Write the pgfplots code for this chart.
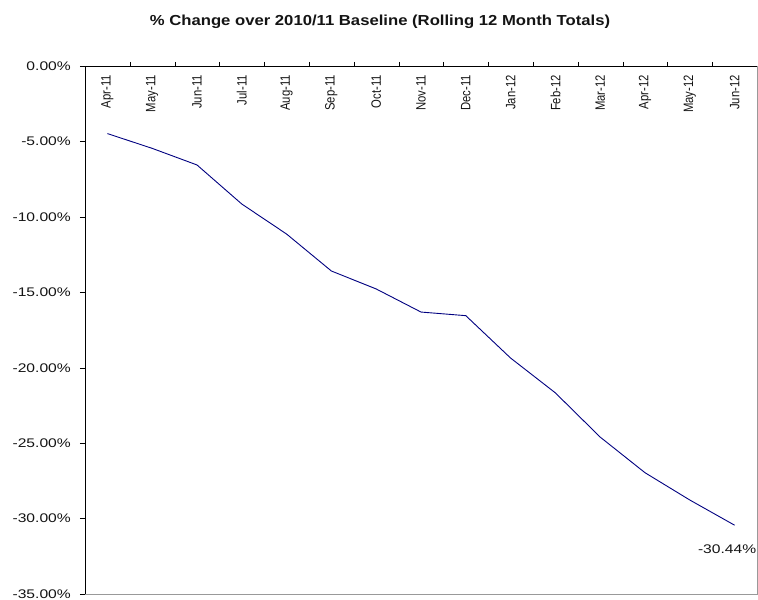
\documentclass[border=0pt]{standalone}
\usepackage{pgfplots}
\pgfplotsset{compat=1.18}
\usepackage{fontspec}
\setmainfont{Liberation Sans}
\newfontfamily\ylabfont[FakeStretch=1.25]{Liberation Sans}
\newfontfamily\titlefont[FakeStretch=1.15]{Liberation Sans}
\definecolor{navyline}{RGB}{0,0,128}
\definecolor{txt}{RGB}{20,20,20}
\newcommand\tl[1]{\scalebox{1}[1.2]{#1}}
\begin{document}
\begin{tikzpicture}
\begin{axis}[
  name=ax,
  scale only axis,
  width=672bp, height=528bp,
  xmin=-0.5, xmax=14.5,
  ymin=-35, ymax=0,
  clip=false,
  axis line style={draw=none},
  xtick={0,...,14},
  xticklabels={\tl{Apr-11},\tl{May-11},\tl{Jun-11},\tl{Jul-11},\tl{Aug-11},\tl{Sep-11},\tl{Oct-11},\tl{Nov-11},\tl{Dec-11},\tl{Jan-12},\tl{Feb-12},\tl{Mar-12},\tl{Apr-12},\tl{May-12},\tl{Jun-12}},
  minor xtick={0.5,1.5,...,13.5},
  xtick pos=upper, xticklabel pos=upper,
  major x tick style={draw=none},
  minor x tick style={black},
  minor tick length=4bp,
  tick align=outside,
  xticklabel style={rotate=90, anchor=east, font=\fontsize{11.3bp}{13bp}\selectfont, text=txt, inner sep=0pt},
  xticklabel shift=-14bp,
  ytick={-35,-30,...,0},
  yticklabels={-35.00\%,-30.00\%,-25.00\%,-20.00\%,-15.00\%,-10.00\%,-5.00\%,0.00\%},
  ytick pos=left,
  major tick length=5bp,
  ytick style={black},
  yticklabel style={font=\ylabfont\fontsize{12.5bp}{14bp}\selectfont, text=txt, inner sep=0pt},
  yticklabel shift=9bp,
]
\addplot[navyline, line width=0.9bp, mark=none] coordinates {
(0,-4.48) (1,-5.46) (2,-6.56) (3,-9.15) (4,-11.14) (5,-13.59) (6,-14.78) (7,-16.31) (8,-16.55) (9,-19.36) (10,-21.67) (11,-24.60) (12,-26.96) (13,-28.77) (14,-30.44)
};
\node[font=\ylabfont\fontsize{12.5bp}{14bp}\selectfont, text=txt, inner sep=0pt] at (axis cs:14,-30.44) [xshift=-7.5bp, yshift=-24bp] {-30.44\%};
\draw[black, line width=0.8bp] (rel axis cs:0,0) -- (rel axis cs:0,1) -- (rel axis cs:1,1);
\draw[gray!80, line width=0.8bp] (rel axis cs:0,0) -- (rel axis cs:1,0) -- (rel axis cs:1,1);
\end{axis}
\node[font=\titlefont\bfseries\fontsize{14.5bp}{17bp}\selectfont, text=txt, inner sep=0pt] at ([shift={(295bp,572bp)}]ax.south west) {\% Change over 2010/11 Baseline (Rolling 12 Month Totals)};
\path ([shift={(-85bp,-6bp)}]ax.south west) rectangle ([shift={(1bp,66bp)}]ax.north east);
\end{tikzpicture}
\end{document}
